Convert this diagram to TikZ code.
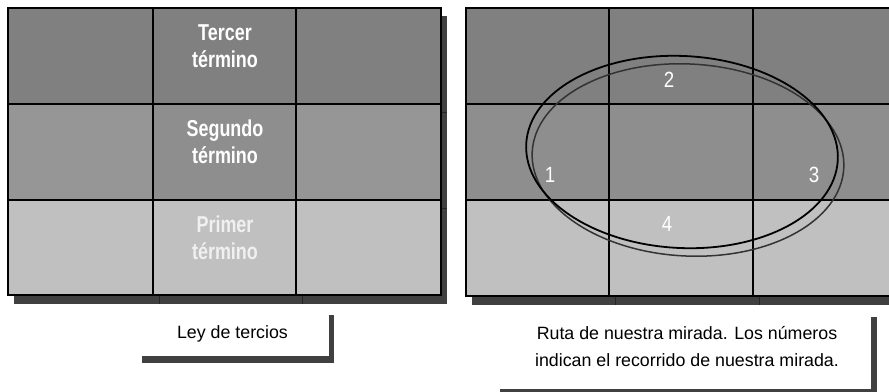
\documentclass[tikz,border=0pt]{standalone}
\usepackage{fontspec}
\setmainfont{Liberation Sans}
\usepackage{graphicx}
\definecolor{shadowgray}{HTML}{404040}
\definecolor{rowtop}{HTML}{808080}
\definecolor{rowmid}{HTML}{969696}
\definecolor{rowmidc}{HTML}{8E8E8E}
\definecolor{rowbot}{HTML}{C0C0C0}
\definecolor{ringshadow}{HTML}{333333}
\begin{document}
\begin{tikzpicture}[x=1pt,y=-1pt,
  shadowbox/.style={fill=shadowgray},
  shadowline/.style={draw=black!85, line width=0.7pt},
  gridline/.style={draw=black, line width=2.2pt},
  gridlinethin/.style={draw=black, line width=1.7pt},
  termlabel/.style={text=white, inner sep=0pt, anchor=base, font=\fontsize{23}{27}\selectfont\bfseries},
  numlabel/.style={text=white, inner sep=0pt, anchor=base, font=\fontsize{22}{25}\selectfont},
  caption/.style={text=black, inner sep=0pt, anchor=base, font=\fontsize{17.8}{27}\selectfont},
  ring/.style={draw=black, line width=1.8pt},
  ringshade/.style={draw=ringshadow, line width=1.5pt}]
\useasboundingbox (0,0) rectangle (889,391);
\clip (0,0) rectangle (889,391);
\fill[white] (0,0) rectangle (889,391);

% ---------- left grid ----------
\fill[shadowbox] (14,16) rectangle (447,304);
\draw[shadowline] (159,295) -- (159,304) (302,295) -- (302,304)
                  (441,112) -- (447,112) (441,208) -- (447,208);
\fill[rowtop] (8,8) rectangle (441,104);
\fill[rowmid] (8,104) rectangle (441,200);
\fill[rowmidc] (153,104) rectangle (296,200);
\fill[rowbot] (8,200) rectangle (441,295);
\draw[gridline] (8,8) rectangle (441,295);
\draw[gridline] (153,8) -- (153,295) (296,8) -- (296,295)
                (8,104) -- (441,104) (8,200) -- (441,200);

\node[termlabel] (t3a) at (225,40) {\scalebox{0.78}[1]{Tercer}};
\node[termlabel] (t3b) at (225,67) {\scalebox{0.78}[1]{término}};
\node[termlabel] (t2a) at (225,136) {\scalebox{0.78}[1]{Segundo}};
\node[termlabel] (t2b) at (225,163) {\scalebox{0.78}[1]{término}};
\node[termlabel, text=white!94!black] (t1a) at (225,232) {\scalebox{0.78}[1]{Primer}};
\node[termlabel, text=white!94!black] (t1b) at (225,259) {\scalebox{0.78}[1]{término}};

% ---------- caption 1 ----------
\fill[shadowbox] (142,315) rectangle (334,363);
\fill[white] (136,309) rectangle (329,356);
\node[caption] (cap1) at (232.5,338) {Ley de tercios};

% ---------- right grid ----------
\fill[shadowbox] (472,16) rectangle (903,305);
\draw[shadowline] (615,296) -- (615,305) (759,296) -- (759,305);
\fill[rowtop] (466,8) rectangle (897,104);
\fill[rowmidc] (466,104) rectangle (897,200);
\fill[rowbot] (466,200) rectangle (897,296);
\draw[gridlinethin] (466,8) rectangle (897,296);
\draw[gridlinethin] (609,8) -- (609,296) (753,8) -- (753,296)
                    (466,104) -- (897,104) (466,200) -- (897,200);

% ellipses (route of the gaze)
\draw[ringshade, rotate around={-3:(688,160)}] (688,160) ellipse (156 and 96);
\draw[ring, rotate around={-3:(682,152)}] (682,152) ellipse (156 and 96);

\node[numlabel] (n1) at (550,182) {\scalebox{0.85}[1]{1}};
\node[numlabel] (n2) at (669,87) {\scalebox{0.85}[1]{2}};
\node[numlabel] (n3) at (814,182) {\scalebox{0.85}[1]{3}};
\node[numlabel] (n4) at (667,231) {\scalebox{0.85}[1]{4}};

% ---------- caption 2 ----------
\fill[shadowbox] (500,317) rectangle (877,400);
\fill[white] (494,311) rectangle (871,389);
\node[caption] (cap2a) at (687,339) {Ruta de nuestra mirada. Los números};
\node[caption] (cap2b) at (687,366) {indican el recorrido de nuestra mirada.};
\end{tikzpicture}
\end{document}
